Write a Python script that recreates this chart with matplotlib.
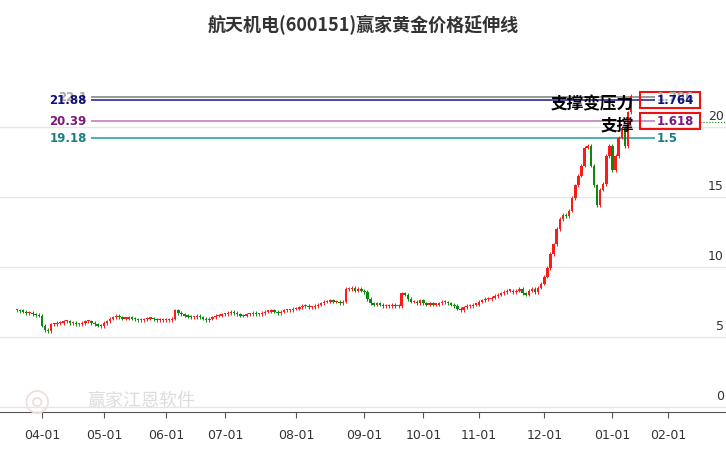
import matplotlib
matplotlib.use("Agg")
import matplotlib.pyplot as plt
import numpy as np
import pandas as pd

plt.rcParams['font.family'] = ['Noto Sans CJK SC', 'DejaVu Sans']

# ─── data ─────────────────────────────────────────────────────────────
holidays = ["2024-04-04", "2024-04-05", "2024-05-01", "2024-05-02", "2024-05-03",
            "2024-06-10", "2024-09-16", "2024-09-17", "2024-10-01", "2024-10-02",
            "2024-10-03", "2024-10-04", "2024-10-07", "2025-01-01", "2025-01-28",
            "2025-01-29", "2025-01-30", "2025-01-31"]
closes_mar = [6.9, 6.85, 6.8, 6.7, 6.7, 6.6, 6.55, 6.5]
closes_apr = [5.8, 5.5, 5.4, 5.9, 5.9, 6.0, 6.0, 6.1, 6.1, 6.0, 6.0, 5.9, 5.9, 6.0,
              6.1, 6.1, 6.0, 5.9, 5.8, 5.75]
closes_may = [6.0, 6.1, 6.3, 6.4, 6.5, 6.4, 6.3, 6.3, 6.4, 6.3, 6.25, 6.2, 6.2, 6.25,
              6.3, 6.3, 6.25, 6.2, 6.2, 6.2]
closes_jun = [6.2, 6.2, 6.3, 6.9, 6.7, 6.6, 6.5, 6.45, 6.4, 6.4, 6.5, 6.4, 6.3, 6.2,
              6.3, 6.4, 6.5, 6.5, 6.6]
closes_jul = [6.6, 6.7, 6.8, 6.7, 6.6, 6.5, 6.5, 6.6, 6.6, 6.7, 6.6, 6.6, 6.7, 6.8,
              6.8, 6.9, 6.8, 6.7, 6.8, 6.9, 6.9, 6.9, 7.0]
closes_aug = [7.0, 7.1, 7.2, 7.2, 7.1, 7.1, 7.2, 7.3, 7.4, 7.5, 7.5, 7.6, 7.5, 7.5,
              7.4, 7.5, 8.4, 8.4, 8.5, 8.3, 8.4, 8.3]
closes_sep = [8.2, 7.7, 7.4, 7.3, 7.35, 7.3, 7.2, 7.25, 7.2, 7.3, 7.2, 7.2, 8.1, 8.0,
              7.7, 7.5, 7.5, 7.4, 7.6]
closes_oct = [7.4, 7.3, 7.4, 7.3, 7.3, 7.4, 7.5, 7.45, 7.4, 7.3, 7.2, 7.0, 6.9, 7.1,
              7.2, 7.2, 7.3, 7.3]
closes_nov = [7.5, 7.6, 7.7, 7.7, 7.8, 7.9, 8.0, 8.1, 8.2, 8.3, 8.3, 8.2, 8.3, 8.4,
              8.1, 8.0, 8.3, 8.4, 8.2, 8.5, 8.8]
closes_dec = [9.3, 9.9, 10.9, 11.6, 12.7, 13.4, 13.7, 13.6, 14.0, 14.9, 15.8, 16.5,
              17.2, 18.5, 18.6, 17.2, 15.8, 14.4, 15.5, 15.9, 17.9, 18.6]
closes_jan = [16.9, 17.9, 19.2, 19.9, 18.6, 21.0, 22.2]

level_values = [22.1, 21.88, 20.39, 19.18]
level_labels = ["22.1", "21.88", "20.39", "19.18"]
level_ratios = ["1.786", "1.764", "1.618", "1.5"]
level_line_colors = ["#888888", "#2b2b9a", "#c27fc2", "#2aa6a6"]
level_text_colors = ["#aaaaaa", "#10107a", "#7a1a7a", "#1a8080"]
boxed = ["1.764", "1.618"]
y_ticks = [0, 5, 10, 15, 20]

closes = np.array(closes_mar + closes_apr + closes_may + closes_jun + closes_jul
                  + closes_aug + closes_sep + closes_oct + closes_nov + closes_dec
                  + closes_jan)
opens = np.concatenate([[closes[0]], closes[:-1]])

# trading-day index axis (extended into February for the month ticks)
days = pd.bdate_range("2024-03-20", "2025-02-28")
days = days[~days.isin(pd.to_datetime(holidays))]
months = pd.Series(days.to_period("M"))
tick_idx = [i for i in range(1, len(days)) if months[i] != months[i - 1]]
tick_lab = [days[i].strftime("%m-01") for i in tick_idx]

# ─── figure ───────────────────────────────────────────────────────────
fig = plt.figure(figsize=(7.26, 4.5), dpi=100)
ax = fig.add_axes([0, 38 / 450, 1, 357 / 450])
ax.set_xlim(-5.5, 228.6)
ax.set_ylim(-0.36, 25.1)

for v in y_ticks:
    ax.axhline(v, color="#e6e6e6", linewidth=1, zorder=0)

x = np.arange(len(closes))
up = closes >= opens
colours = np.where(up, "#ff1a1a", "#0a8a0a")
hi = np.maximum(opens, closes) + 0.12
lo = np.minimum(opens, closes) - 0.12
ax.vlines(x, lo, hi, colors=colours, linewidth=0.7, zorder=2)
ax.bar(x, np.maximum(np.abs(closes - opens), 0.08), bottom=np.minimum(opens, closes),
       width=0.8, color=colours, zorder=3)

# price levels
x0, x1, xb, xr = 24, 205.7, 200.9, 206.2
for v, lab, r, lc, tc in zip(level_values, level_labels, level_ratios,
                             level_line_colors, level_text_colors):
    ax.hlines(v, x0, x1, color=lc, linewidth=1.2, zorder=1)
    ax.text(x0 - 1.5, v, lab, color=tc, fontsize=8.5, fontweight="bold",
            ha="right", va="center", family=["DejaVu Sans"])
    if r in boxed:
        ax.add_patch(plt.Rectangle((xb, v - 0.55), 19.4, 1.1, fill=False,
                                   ec="#ee1111", lw=1.5, zorder=4))
    ax.text(xr, v, r, color=tc, fontsize=8.5, fontweight="bold",
            ha="left", va="center", family=["DejaVu Sans"], zorder=5)
ax.hlines(20.3, xb + 19.4, 228.6, color="#0a8a0a", linewidth=0.8, linestyles=":")

ax.text(199, 21.6, "支撑变压力", fontsize=12, fontweight="bold",
        ha="right", va="center", color="black", zorder=5)
ax.text(199, 20.1, "支撑", fontsize=12, fontweight="bold",
        ha="right", va="center", color="black", zorder=5)

for v in y_ticks:
    ax.text(0.997, v + 0.25, str(v), transform=ax.get_yaxis_transform(), ha="right",
            va="bottom", fontsize=9, color="#333333", family=["DejaVu Sans"])

ax.text(0.12, 0.03, "赢家江恩软件", transform=ax.transAxes, fontsize=13,
        color="#dddddd", ha="left", va="center")
ax.text(0.05, 0.03, "◎", transform=ax.transAxes, fontsize=22,
        color="#f0dede", ha="center", va="center", family=["DejaVu Sans"])

ax.set_yticks([])
ax.set_xticks(tick_idx)
ax.set_xticklabels(tick_lab, fontsize=9, color="#333333", family=["DejaVu Sans"])
ax.tick_params(axis="x", length=4, color="#555555", pad=8)
for s in ("top", "left", "right"):
    ax.spines[s].set_visible(False)
ax.spines["bottom"].set_color("#555555")

fig.text(0.5, 1 - 25 / 450, "航天机电(600151)赢家黄金价格延伸线", ha="center", va="center",
         fontsize=13, fontweight="bold", color="#333333")

fig.savefig("out.png", dpi=100)
